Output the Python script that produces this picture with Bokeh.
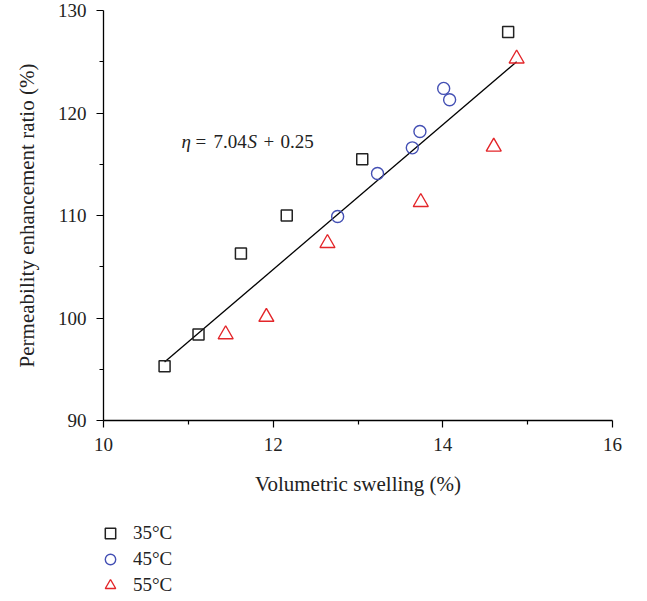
from bokeh.plotting import figure
from bokeh.layouts import column
from bokeh.models import Legend, LegendItem, FixedTicker, ColumnDataSource
from bokeh.embed import file_html
from bokeh.resources import INLINE
from bokeh.core.properties import value

# ---- data ----
s35_x = [10.72, 11.12, 11.62, 12.16, 13.05, 14.77]
s35_y = [95.3, 98.4, 106.3, 110.0, 115.5, 127.9]
s45_x = [12.76, 13.23, 13.64, 13.73, 14.01, 14.08]
s45_y = [109.9, 114.1, 116.6, 118.2, 122.4, 121.3]
s55_x = [11.44, 11.92, 12.64, 13.74, 14.60, 14.87]
s55_y = [98.4, 100.1, 107.3, 111.3, 116.7, 125.3]
fit_x = [10.72, 14.87]
fit_y = [95.7, 125.0]
series_labels = ["35°C", "45°C", "55°C"]
x_ticks = [10, 12, 14, 16]
y_ticks = [90, 100, 110, 120, 130]
eq_pieces = ["η", "=", "7.04", "S", "+", "0.25"]
eq_x, eq_y = 10.92, 117.2

FONT = "Liberation Serif"
STYLES = [dict(marker="square", size=11, line_color="#222222", line_width=1.5),
          dict(marker="circle", size=12, line_color="#4450b4", line_width=1.4),
          dict(marker="triangle", size=15, line_color="#e3262a", line_width=1.4)]
SERIES = [(s35_x, s35_y), (s45_x, s45_y), (s55_x, s55_y)]

p = figure(width=647, height=510, x_range=(10, 16), y_range=(90, 130),
           output_backend="svg", toolbar_location=None,
           min_border_left=103, min_border_right=35, min_border_top=10,
           min_border_bottom=90, outline_line_color=None)
p.grid.visible = False

for ax in (p.xaxis[0], p.yaxis[0]):
    ax.axis_line_color = "black"
    ax.axis_line_width = 1.3
    ax.major_tick_line_color = "black"
    ax.minor_tick_line_color = "black"
    ax.major_tick_line_width = 1.2
    ax.minor_tick_line_width = 1.2
    ax.major_tick_in = 0
    ax.major_tick_out = 7
    ax.minor_tick_in = 0
    ax.minor_tick_out = 4
    ax.major_label_text_font = FONT
    ax.major_label_text_font_size = "19px"
    ax.major_label_text_color = "#222222"
    ax.axis_label_text_font = FONT
    ax.axis_label_text_font_size = "21px"
    ax.axis_label_text_font_style = "normal"
    ax.axis_label_text_color = "#222222"

p.xaxis[0].ticker = FixedTicker(ticks=x_ticks, minor_ticks=[11, 13, 15])
p.yaxis[0].ticker = FixedTicker(ticks=y_ticks, minor_ticks=[95, 105, 115, 125])
p.xaxis[0].axis_label = "Volumetric swelling (%)"
p.yaxis[0].axis_label = "Permeability enhancement ratio (%)"
p.xaxis[0].major_label_standoff = 10
p.yaxis[0].major_label_standoff = 10
p.xaxis[0].axis_label_standoff = 18
p.yaxis[0].axis_label_standoff = 16

p.line(fit_x, fit_y, line_color="black", line_width=1.3)

for (xs, ys), st in zip(SERIES, STYLES):
    p.scatter(xs, ys, fill_color=None, **st)

eq_src = ColumnDataSource(dict(
    x=[eq_x] * len(eq_pieces), y=[eq_y] * len(eq_pieces), text=eq_pieces,
    xo=[0, 14, 32, 66, 82, 99],
    st=["italic", "normal", "normal", "italic", "normal", "normal"]))
p.text(x="x", y="y", text="text", x_offset="xo", text_font_style="st",
       source=eq_src, text_font=value(FONT), text_font_size="19px",
       text_color="#222222", text_baseline="alphabetic", text_align="left")

# ---- legend hosted in a small figure below the chart ----
lg = figure(width=647, height=91, x_range=(0, 1), y_range=(0, 1),
            output_backend="svg", toolbar_location=None,
            min_border=0, outline_line_color=None)
lg.axis.visible = False
lg.grid.visible = False
items = []
for lab, (xs, ys), st in zip(series_labels, SERIES, STYLES):
    r = lg.scatter(xs, ys, fill_color=None, **st)  # out of view; legend glyph only
    items.append(LegendItem(label=lab, renderers=[r], index=0))

legend = Legend(items=items, location=(-8, 3), orientation="vertical",
                border_line_color=None, background_fill_alpha=0,
                padding=0, margin=0, spacing=0,
                glyph_width=30, glyph_height=26, label_height=26,
                label_standoff=8,
                label_text_font=FONT, label_text_font_size="19px",
                label_text_color="#222222")
lg.add_layout(legend, "center")

open("out.html", "w").write(file_html(column(p, lg), INLINE))
